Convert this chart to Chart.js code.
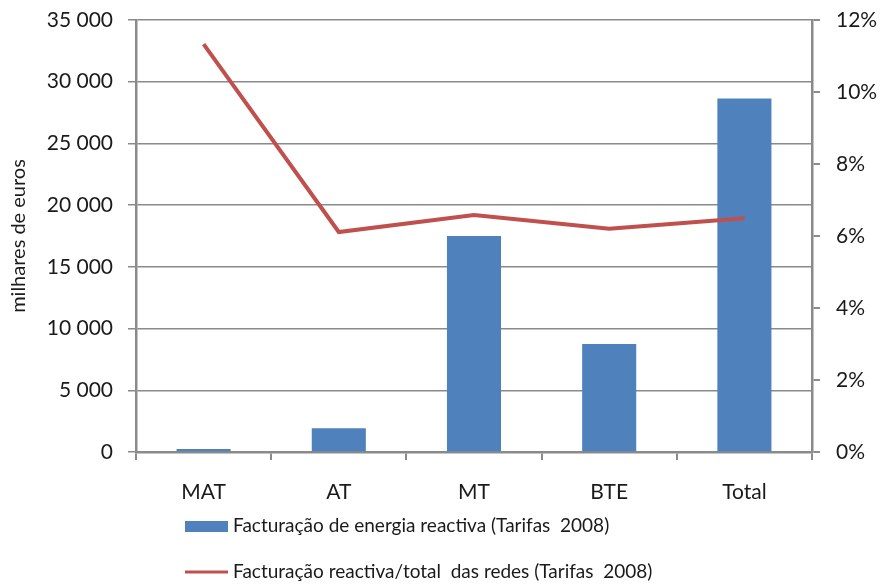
<!DOCTYPE html>
<html>
<head>
<meta charset="utf-8">
<script src="https://cdn.jsdelivr.net/npm/chart.js@4.4.1/dist/chart.umd.min.js"></script>
<style>
  html, body { margin: 0; padding: 0; background: #fff; }
  #wrap { width: 880px; height: 584px; position: relative; }
</style>
</head>
<body>
<div id="wrap"><canvas id="chart" width="880" height="584"></canvas></div>
<script>
// categorias e valores
const categories = ['MAT', 'AT', 'MT', 'BTE', 'Total'];
const facturacao = [250, 1920, 17500, 8750, 28650];      // milhares de euros
const percentagem = [11.33, 6.11, 6.58, 6.2, 6.49];       // % reactiva/total
const leftTicks = [0, 5000, 10000, 15000, 20000, 25000, 30000, 35000];
const rightTicks = [0, 2, 4, 6, 8, 10, 12];

const barLabel = 'Facturação de energia reactiva (Tarifas  2008)';
const lineLabel = 'Facturação reactiva/total  das redes (Tarifas  2008)';

const FONT = 'Lato';
const TXT = '#1a1a1a';
const GRID = '#8a8a8a';

function fmt(v) {
  return String(v).replace(/\B(?=(\d{3})+(?!\d))/g, ' ');
}

// legenda desenhada à mão, uma entrada por linha
const legendPlugin = {
  id: 'stackedLegend',
  afterDraw(chart) {
    const ctx = chart.ctx;
    const ds = chart.data.datasets;
    const bar = ds.find(d => d.type === 'bar');
    const line = ds.find(d => d.type === 'line');
    ctx.save();
    ctx.font = '19px ' + FONT;
    ctx.textBaseline = 'middle';
    ctx.fillStyle = bar.backgroundColor;
    ctx.fillRect(185, 521, 43, 11);
    ctx.fillStyle = TXT;
    ctx.fillText(bar.label, 233, 526);
    ctx.strokeStyle = line.borderColor;
    ctx.lineWidth = 3;
    ctx.beginPath();
    ctx.moveTo(185, 572);
    ctx.lineTo(228, 572);
    ctx.stroke();
    ctx.fillText(line.label, 233, 572);
    ctx.restore();
  }
};

// o eixo não deve reservar espaço extra no topo
function noPad(s) {
  s.paddingTop = 0;
  s.paddingBottom = 0;
}

document.addEventListener('DOMContentLoaded', () => {
  const ctx = document.getElementById('chart').getContext('2d');
  new Chart(ctx, {
    data: {
      labels: categories,
      datasets: [
        {
          type: 'bar',
          label: barLabel,
          data: facturacao,
          yAxisID: 'y',
          backgroundColor: '#4F81BD',
          barPercentage: 0.4,
          categoryPercentage: 1,
          order: 1
        },
        {
          type: 'line',
          label: lineLabel,
          data: percentagem,
          yAxisID: 'y2',
          borderColor: '#C0504D',
          backgroundColor: '#C0504D',
          borderWidth: 4,
          pointRadius: 0,
          tension: 0,
          order: 0
        }
      ]
    },
    options: {
      responsive: false,
      animation: false,
      devicePixelRatio: 1,
      layout: { padding: { top: 20, bottom: 0, left: 0, right: 0 } },
      plugins: {
        legend: { display: false },
        tooltip: { enabled: false }
      },
      scales: {
        x: {
          offset: true,
          grid: {
            offset: true,
            drawOnChartArea: false,
            drawTicks: true,
            tickLength: 8,
            color: GRID,
            lineWidth: 2
          },
          border: { color: GRID, width: 2.5 },
          ticks: { color: TXT, font: { family: FONT, size: 21 }, padding: 20 },
          afterFit(s) { s.height = 132; }
        },
        y: {
          position: 'left',
          min: 0,
          max: 35000,
          afterBuildTicks(s) { s.ticks = leftTicks.map(v => ({ value: v })); },
          grid: { color: GRID, lineWidth: 1.5, tickLength: 8 },
          border: { color: GRID, width: 2.5 },
          ticks: {
            color: TXT,
            font: { family: FONT, size: 21 },
            padding: 15,
            callback: v => fmt(v)
          },
          title: {
            display: true,
            text: 'milhares de euros',
            color: TXT,
            font: { family: FONT, size: 20 },
            padding: { top: 7, bottom: 0 }
          },
          afterFit(s) { s.width = 136; noPad(s); }
        },
        y2: {
          position: 'right',
          min: 0,
          max: 12,
          afterBuildTicks(s) { s.ticks = rightTicks.map(v => ({ value: v })); },
          grid: { drawOnChartArea: false, color: GRID, lineWidth: 2, tickLength: 8 },
          border: { color: GRID, width: 2.5 },
          ticks: {
            color: TXT,
            font: { family: FONT, size: 21 },
            padding: 16,
            callback: v => v + '%'
          },
          afterFit(s) { s.width = 68; noPad(s); }
        }
      }
    },
    plugins: [legendPlugin]
  });
});
</script>
</body>
</html>
